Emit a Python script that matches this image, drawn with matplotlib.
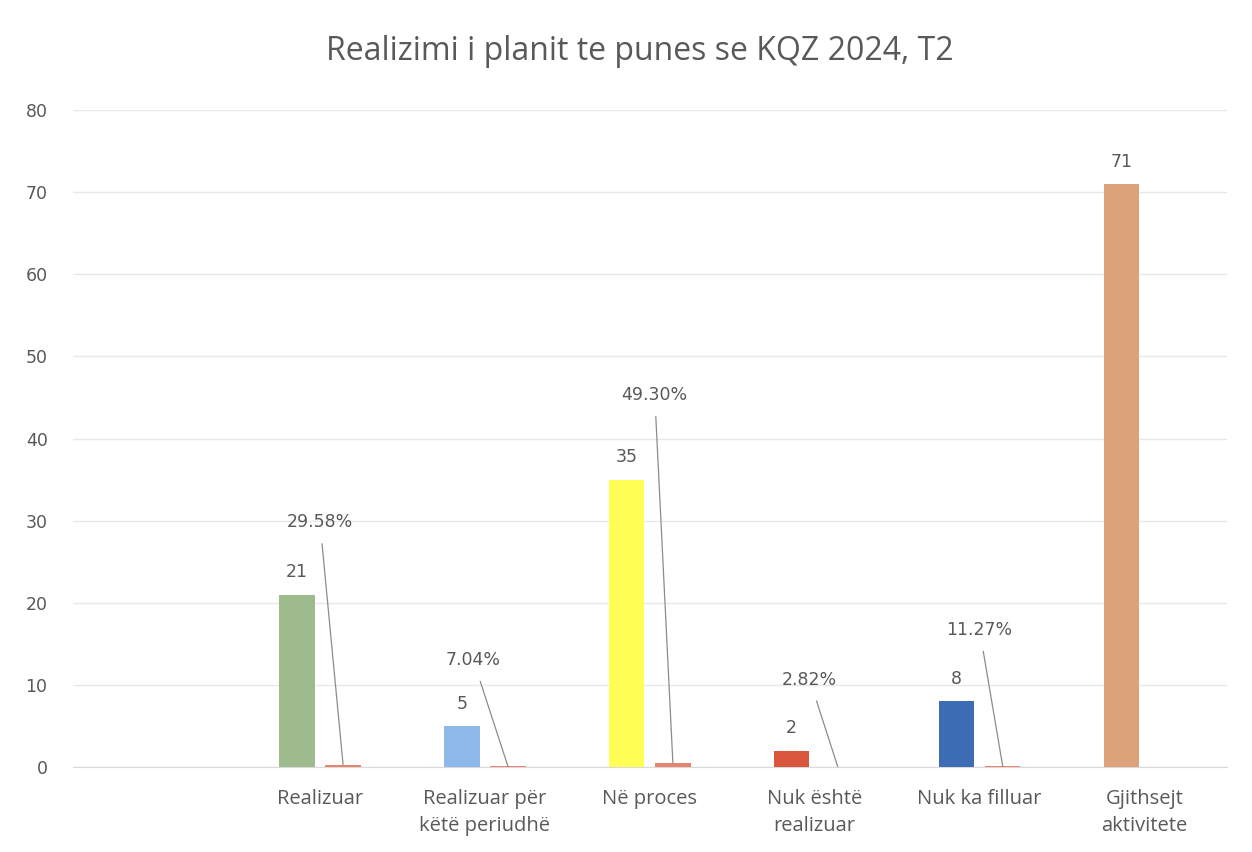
import matplotlib.pyplot as plt
from matplotlib import font_manager

# te dhenat
kategorite = ["", "Realizuar", "Realizuar për\nkëtë periudhë", "Në proces",
              "Nuk është\nrealizuar", "Nuk ka filluar", "Gjithsejt\naktivitete"]
numri = [0, 21, 5, 35, 2, 8, 71]
perqindja = [None, 0.2958, 0.0704, 0.4930, 0.0282, 0.1127, None]
ngjyrat = ["#ffffff", "#9dbb8c", "#8db8ea", "#ffff55", "#d9553c", "#3c6cb4", "#dca27a"]
yticks = [0, 10, 20, 30, 40, 50, 60, 70, 80]

# ku vendosen etiketat e perqindjes (zhvendosje ne x, lartesia ne y)
etiketa_pos = [None, (-0.14, 29.8), (-0.21, 13.0), (-0.11, 45.3),
               (-0.17, 10.6), (-0.14, 16.7), None]

emrat = [f.name for f in font_manager.fontManager.ttflist]
narrow = "Liberation Sans Narrow" if "Liberation Sans Narrow" in emrat else "Open Sans"
gri = "#595959"

fig = plt.figure(figsize=(12.52, 8.52), dpi=100)
ax = fig.add_axes([0.058, 0.0998, 0.922, 0.771])

x = list(range(len(kategorite)))
w = 0.215
off = 0.14

ax.bar([i - off for i in x], numri, width=w, color=ngjyrat, zorder=3)

x2 = [i + off for i in x if perqindja[i] is not None]
v2 = [p for p in perqindja if p is not None]
ax.bar(x2, v2, width=w, color="#e8836e", zorder=3)

for i in x:
    if numri[i] > 0:
        ax.text(i - off, numri[i] + 1.6, str(numri[i]), ha="center", va="bottom",
                fontsize=12.5, color=gri, family="DejaVu Sans")
    if perqindja[i] is not None:
        dx, ly = etiketa_pos[i]
        ax.annotate(f"{perqindja[i]*100:.2f}%", xy=(i + off, perqindja[i]),
                    xytext=(i + off + dx, ly), ha="center", va="center",
                    fontsize=12.5, color=gri, family="DejaVu Sans",
                    arrowprops=dict(arrowstyle="-", color="#8c8c8c", lw=0.9,
                                    shrinkA=7, shrinkB=0))

ax.set_xlim(-0.5, 6.5)
ax.set_ylim(0, 80)
ax.set_yticks(yticks)
ax.set_xticks(x)
ax.set_xticklabels(kategorite, family=narrow, fontsize=14.5, color=gri,
                   linespacing=1.45)
ax.tick_params(axis="y", labelsize=12.5, colors=gri, length=0, pad=18)
ax.tick_params(axis="x", length=0, pad=16)
for t in ax.get_yticklabels():
    t.set_family("DejaVu Sans")
ax.grid(axis="y", color="#e8e8e8", lw=1, zorder=0)
for s in ["top", "right", "left"]:
    ax.spines[s].set_visible(False)
ax.spines["bottom"].set_color("#d9d9d9")

fig.text(0.511, 0.94, "Realizimi i planit te punes se KQZ 2024, T2", ha="center",
         va="center", fontsize=23, color=gri, family=narrow)

plt.savefig("out.png", dpi=100)
